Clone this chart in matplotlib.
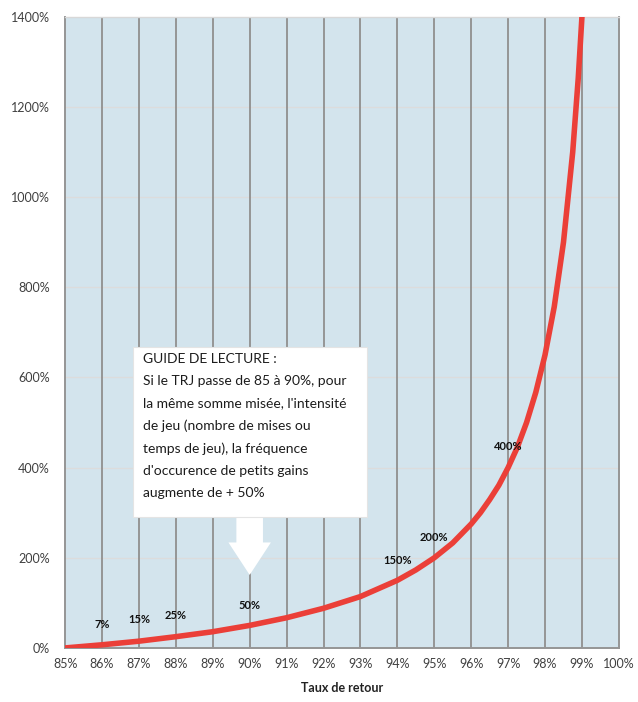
import numpy as np
import matplotlib.pyplot as plt
from matplotlib.patches import FancyArrow, Rectangle

# taux de retour (%) et hausse de l'intensité de jeu (%)
trj = [85, 86, 87, 88, 89, 90, 91, 92, 93, 94, 94.5, 95, 95.5, 96, 96.25, 96.5, 96.75,
       97, 97.25, 97.5, 97.75, 98, 98.25, 98.5, 98.75, 98.9, 99]
hausse = [0, 7, 15, 25, 36, 50, 67, 88, 114, 150, 173, 200, 233, 275, 300, 329, 361,
          400, 445, 500, 567, 650, 757, 900, 1100, 1264, 1400]

# étiquettes affichées sur la courbe
lab_x = [86, 87, 88, 90, 94, 95, 97]
lab_y = [51, 62, 71, 95, 193, 246, 446]
lab_txt = ["7%", "15%", "25%", "50%", "150%", "200%", "400%"]

x_ticks = list(range(85, 101))
y_ticks = list(range(0, 1401, 200))

guide = ("GUIDE DE LECTURE :\n"
         "Si le TRJ passe de 85 à 90%, pour\n"
         "la même somme misée, l'intensité\n"
         "de jeu (nombre de mises ou\n"
         "temps de jeu), la fréquence\n"
         "d'occurence de petits gains\n"
         "augmente de + 50%")

plt.rcParams['font.family'] = ['Lato', 'DejaVu Sans']

fig = plt.figure(figsize=(6.38, 7.02), dpi=100)
ax = fig.add_axes([0.102, 0.077, 0.868, 0.899])
ax.set_facecolor("#d3e4ed")

ax.set_xlim(85, 100)
ax.set_ylim(0, 1400)
ax.set_xticks(x_ticks)
ax.set_xticklabels([f"{t}%" for t in x_ticks])
ax.set_yticks(y_ticks)
ax.set_yticklabels([f"{t}%" for t in y_ticks])
ax.tick_params(axis="x", length=0, labelsize=9, colors="#404040", pad=7)
ax.tick_params(axis="y", length=0, labelsize=9, colors="#404040", pad=11)

for t in x_ticks[1:-1]:
    ax.axvline(t, color="#959595", lw=1.4, zorder=1)
for t in y_ticks[1:-1]:
    ax.axhline(t, color="#dcdcdc", lw=0.9, zorder=0.5)

for side in ["left", "right", "bottom"]:
    ax.spines[side].set_color("#959595")
    ax.spines[side].set_linewidth(1.4)
ax.spines["top"].set_color("#d8d8d8")
ax.spines["top"].set_linewidth(1.0)

ax.plot(trj, hausse, color="#eb3f38", lw=4, solid_joinstyle="round",
        solid_capstyle="butt", zorder=3)

for x, y, t in zip(lab_x, lab_y, lab_txt):
    ax.text(x, y, t, fontsize=8, fontweight="bold", color="#111111",
            ha="center", va="center", zorder=4)

# encadré "guide de lecture" et sa flèche
ax.add_patch(Rectangle((86.84, 291), 6.34, 377, fc="white", ec="#e4e4e4",
                       lw=0.8, zorder=5))
ax.add_patch(FancyArrow(90, 295, 0, -133, width=0.72, head_width=1.15,
                        head_length=72, length_includes_head=True,
                        color="white", ec="none", zorder=4))
ax.text(87.11, 655, guide, fontsize=10, color="#1c1c1c", va="top", ha="left",
        linespacing=2.0, zorder=6)

ax.set_xlabel("Taux de retour", fontsize=9, fontweight="bold", color="#222222", labelpad=9)

plt.savefig("out.png", dpi=100)
